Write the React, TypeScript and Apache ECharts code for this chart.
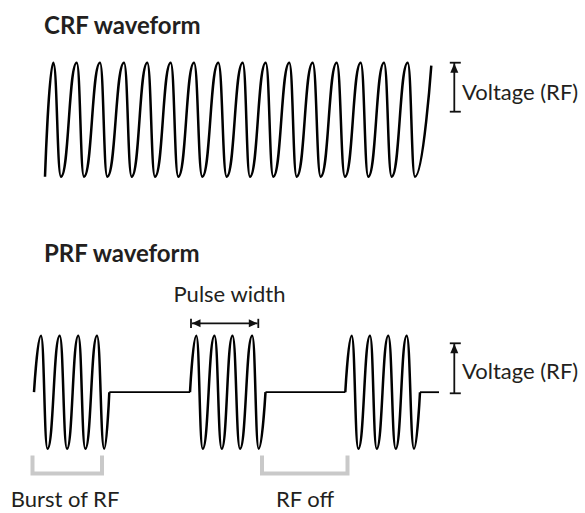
import React, { useEffect, useRef } from 'react';
import * as echarts from 'echarts';

// ---- data (time in arbitrary units, voltage normalised to ±1) ----
const crfStart: [number, number] = [45, -1];
const crfPeakTimes = [53.3, 76.7, 100, 124, 147.3, 170.7, 194, 218.3, 242.7, 265.7, 289.3, 312.7, 336.7, 360.7, 384, 407.7];
const crfTroughTimes = [61, 84, 107.3, 131.7, 155, 178.3, 202.3, 226.7, 250, 273.3, 296.7, 320.7, 345, 368.3, 391.7, 415];
const crfEnd: [number, number] = [431.3, 0.95];

const prfBurstStart = [34, 190, 345.3];
const prfBurstEnd = [109.3, 265.5, 420];
const prfPeakTimes = [
  [41, 59.7, 78.3, 97],
  [196.3, 214.5, 232.5, 252.2],
  [351.7, 370, 388.3, 406.7],
];
const prfTroughTimes = [
  [47.5, 67, 85.3, 104.2],
  [202.7, 221.7, 240, 258.7],
  [358.3, 376.7, 395.7, 414],
];
const prfOffEnd = [190, 345.3, 439];

const peakVoltage = 1;
const troughVoltage = -1;
const offVoltage = 0;

const titles = ['CRF waveform', 'PRF waveform'];
const voltageLabel = 'Voltage (RF)';
const pulseLabel = 'Pulse width';
const burstLabel = 'Burst of RF';
const offLabel = 'RF off';

function extremes(peaks: number[], troughs: number[]): [number, number][] {
  const pts: [number, number][] = [
    ...peaks.map((t) => [t, peakVoltage] as [number, number]),
    ...troughs.map((t) => [t, troughVoltage] as [number, number]),
  ];
  return pts.sort((a, b) => a[0] - b[0]);
}

const INK = '#111';
const TEXT = '#231f20';
const GREY = '#c9c9c9';

export default function App() {
  const ref = useRef<HTMLDivElement>(null);
  useEffect(() => {
    document.body.style.margin = '0';
    if (!ref.current) return;
    const chart = echarts.init(ref.current, undefined, { renderer: 'svg' });

    const waveStyle = { color: '#000', width: 2.5 };
    const crfData: [number, number][] = [crfStart, ...extremes(crfPeakTimes, crfTroughTimes), crfEnd];

    const series: any[] = [
      {
        type: 'line', xAxisIndex: 0, yAxisIndex: 0, data: crfData,
        smooth: 0.5, smoothMonotone: 'x', symbol: 'none', clip: false,
        lineStyle: waveStyle, silent: true,
      },
    ];
    prfBurstStart.forEach((s, i) => {
      series.push({
        type: 'line', xAxisIndex: 1, yAxisIndex: 1,
        data: [[s, offVoltage], ...extremes(prfPeakTimes[i], prfTroughTimes[i]), [prfBurstEnd[i], offVoltage]],
        smooth: 0.5, smoothMonotone: 'x', symbol: 'none', clip: false,
        lineStyle: waveStyle, silent: true,
      });
      series.push({
        type: 'line', xAxisIndex: 1, yAxisIndex: 1,
        data: [[prfBurstEnd[i], offVoltage], [prfOffEnd[i], offVoltage]],
        symbol: 'none', clip: false, lineStyle: { color: '#000', width: 1.8 }, silent: true,
      });
    });

    const text = (t: string, x: number, y: number, font: string, align = 'left') => ({
      type: 'text', x, y,
      style: { text: t, font, fill: TEXT, textAlign: align, textVerticalAlign: 'middle' },
    });
    const line = (x1: number, y1: number, x2: number, y2: number, stroke = INK, lineWidth = 1.8) => ({
      type: 'line', shape: { x1, y1, x2, y2 }, style: { stroke, lineWidth },
    });
    const tri = (pts: number[][]) => ({ type: 'polygon', shape: { points: pts }, style: { fill: INK } });

    const titleFont = 'bold 24px Lato, "Open Sans", sans-serif';
    const labelFont = '22px Lato, "Open Sans", sans-serif';

    const marker = (top: number, bottom: number) => [
      line(454.3, top, 454.3, bottom),
      line(449.8, top, 460.8, top),
      line(449.8, bottom, 460.8, bottom),
      tri([[454.3, top + 0.5], [450.3, top + 10], [458.3, top + 10]]),
    ];

    const graphic: any[] = [
      text(titles[0], 44, 24, titleFont),
      text(titles[1], 44, 252.5, titleFont),
      text(voltageLabel, 462, 91.5, labelFont),
      text(voltageLabel, 462, 370.5, labelFont),
      text(pulseLabel, 173.5, 293.5, labelFont),
      text(burstLabel, 65, 498, labelFont, 'center'),
      text(offLabel, 305, 498, labelFont, 'center'),
      ...marker(62.7, 111.7),
      ...marker(343.3, 393.3),
      line(192, 323.3, 257.5, 323.3),
      line(191, 318.8, 191, 328),
      line(258.3, 318.8, 258.3, 328),
      tri([[192, 323.3], [200.5, 319.3], [200.5, 327.3]]),
      tri([[257.3, 323.3], [248.8, 319.3], [248.8, 327.3]]),
      { type: 'polyline', shape: { points: [[32.5, 455.5], [32.5, 473.5], [102, 473.5], [102, 455.5]] }, style: { stroke: GREY, lineWidth: 4, fill: null } },
      { type: 'polyline', shape: { points: [[262, 455.5], [262, 473.5], [347.5, 473.5], [347.5, 455.5]] }, style: { stroke: GREY, lineWidth: 4, fill: null } },
    ];

    chart.setOption({
      animation: false,
      backgroundColor: '#fff',
      grid: [
        { left: 0, right: 0, top: 62.7, height: 114 },
        { left: 0, right: 0, top: 335.7, height: 113 },
      ],
      xAxis: [
        { type: 'value', gridIndex: 0, min: 0, max: 585, show: false },
        { type: 'value', gridIndex: 1, min: 0, max: 585, show: false },
      ],
      yAxis: [
        { type: 'value', gridIndex: 0, min: -1, max: 1, show: false },
        { type: 'value', gridIndex: 1, min: -1, max: 1, show: false },
      ],
      series,
      graphic,
    });
    return () => chart.dispose();
  }, []);
  return <div ref={ref} style={{ width: 585, height: 513 }} />;
}
